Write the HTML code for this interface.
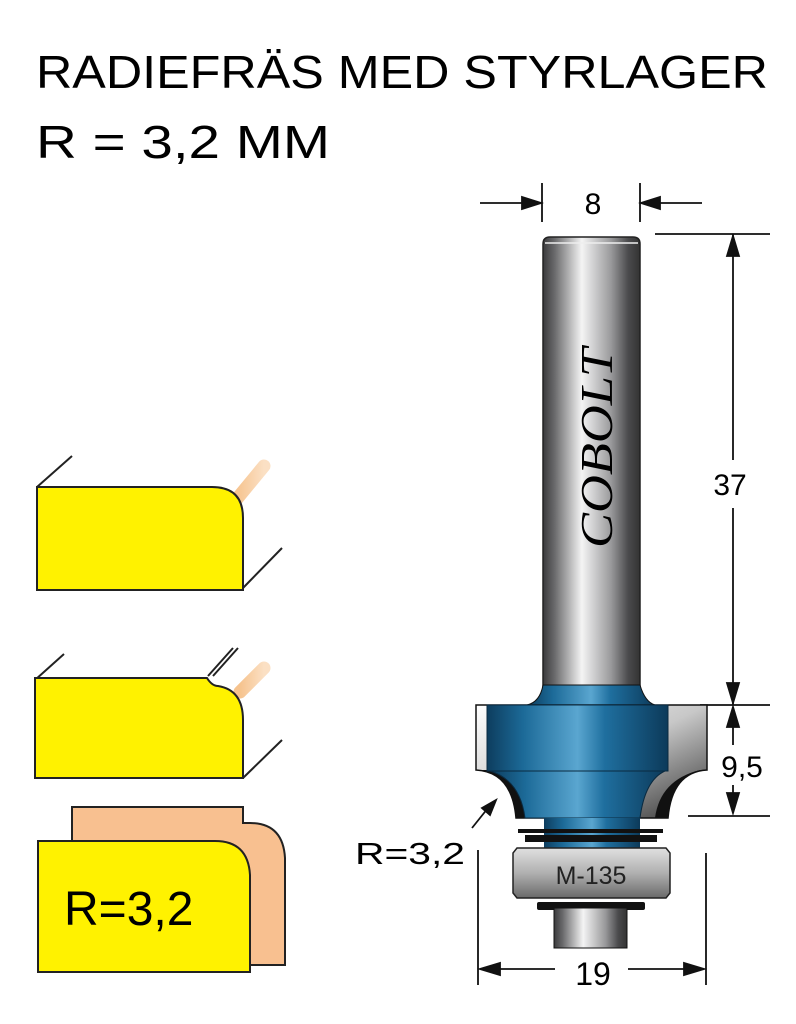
<!DOCTYPE html>
<html><head><meta charset="utf-8"><style>
html,body{margin:0;padding:0;background:#fff}
svg{display:block}
text{font-family:"Liberation Sans",sans-serif}
</style></head><body>
<svg width="796" height="1024" viewBox="0 0 796 1024" xmlns="http://www.w3.org/2000/svg">
<defs>
<linearGradient id="sh" x1="0" x2="1" y1="0" y2="0">
<stop offset="0" stop-color="#3a3a3c"/><stop offset="0.12" stop-color="#6a6a6c"/><stop offset="0.4" stop-color="#f4f4f4"/><stop offset="0.7" stop-color="#9a9a9c"/><stop offset="0.88" stop-color="#4a4a4c"/><stop offset="1" stop-color="#333"/>
</linearGradient>
<linearGradient id="bl" x1="0" x2="1" y1="0" y2="0">
<stop offset="0" stop-color="#0d3d5e"/><stop offset="0.2" stop-color="#1c6a98"/><stop offset="0.5" stop-color="#5aa6d0"/><stop offset="0.65" stop-color="#1f6f9f"/><stop offset="1" stop-color="#0c3a5a"/>
</linearGradient>
<linearGradient id="gw" x1="0" x2="1" y1="0" y2="1">
<stop offset="0" stop-color="#fff"/><stop offset="0.5" stop-color="#c8c8c8"/><stop offset="1" stop-color="#333"/>
</linearGradient>
<linearGradient id="br" x1="0" x2="0" y1="0" y2="1">
<stop offset="0" stop-color="#e0e0e0"/><stop offset="0.5" stop-color="#b0b0b0"/><stop offset="1" stop-color="#6a6a6a"/>
</linearGradient>
<linearGradient id="pe" x1="0" x2="1"><stop offset="0" stop-color="#f6c38e"/><stop offset="1" stop-color="#fbe0c4"/></linearGradient>
</defs>
<text x="36" y="88" font-size="46" textLength="732" lengthAdjust="spacingAndGlyphs">RADIEFRÄS MED STYRLAGER</text>
<text x="36" y="158" font-size="46" textLength="294" lengthAdjust="spacingAndGlyphs">R = 3,2 MM</text>

<g stroke="#222" stroke-width="2">
<line x1="37" y1="487" x2="72" y2="456"/><line x1="243" y1="588" x2="282" y2="548"/>
<line x1="236" y1="500" x2="264" y2="466" stroke="url(#pe)" stroke-width="13" stroke-linecap="round"/>
<path d="M37 487 H212 Q243 487 243 518 V590 H37 Z" fill="#fff200"/>
<line x1="35" y1="680" x2="64" y2="654"/><line x1="243" y1="778" x2="282" y2="740"/>
<line x1="240" y1="692" x2="264" y2="668" stroke="url(#pe)" stroke-width="13" stroke-linecap="round"/>
<path d="M208 676 L233 648 M213 676 L238 648" stroke-width="2"/>
<path d="M35 678 H207 Q212 686 218 686 Q243 690 243 720 V778 H35 Z" fill="#fff200"/>
<path d="M72 807 H243 V823 H250 Q283 823 285 858 V965 H72 Z" fill="#f8c090"/>
<path d="M38 841 H215 Q248 841 250 875 V972 H38 Z" fill="#fff200"/>
</g>
<text x="64" y="925" font-size="48">R=3,2</text>

<g stroke="#111" stroke-width="1.8" fill="#111">
<line x1="542" y1="183" x2="542" y2="222"/><line x1="640" y1="183" x2="640" y2="222"/>
<line x1="480" y1="203" x2="525" y2="203"/><polygon points="541,203 522,197 522,209"/>
<line x1="660" y1="203" x2="702" y2="203"/><polygon points="641,203 660,197 660,209"/>
<line x1="655" y1="234" x2="770" y2="234"/>
<line x1="733" y1="234" x2="733" y2="460"/><line x1="733" y1="508" x2="733" y2="705"/>
<polygon points="733,236 727,256 739,256"/><polygon points="733,703 727,683 739,683"/>
<line x1="700" y1="705" x2="770" y2="705"/>
<polygon points="733,707 727,727 739,727"/><line x1="733" y1="720" x2="733" y2="745"/>
<line x1="733" y1="785" x2="733" y2="810"/><polygon points="733,813 727,793 739,793"/>
<line x1="688" y1="816" x2="770" y2="816"/>
<line x1="478" y1="850" x2="478" y2="985"/><line x1="706" y1="853" x2="706" y2="985"/>
<line x1="490" y1="969" x2="555" y2="969"/><polygon points="480,969 500,963 500,975"/>
<line x1="628" y1="969" x2="695" y2="969"/><polygon points="704,969 684,963 684,975"/>
<line x1="472" y1="828" x2="488" y2="808"/><polygon points="496,800 482,808 490,815"/>
</g>
<text x="593" y="214" font-size="30" text-anchor="middle">8</text>
<text x="730" y="495" font-size="30" text-anchor="middle">37</text>
<text x="742" y="777" font-size="30" text-anchor="middle">9,5</text>
<text x="593" y="985" font-size="32" text-anchor="middle">19</text>
<text x="355" y="864" font-size="31" textLength="110" lengthAdjust="spacingAndGlyphs">R=3,2</text>

<path d="M543 690 V244 Q543 237 550 237 H633 Q640 237 640 244 V690 Z" fill="url(#sh)" stroke="#222" stroke-width="1.5"/>
<line x1="545" y1="243" x2="638" y2="243" stroke="#eee" stroke-width="1.5"/>
<text transform="translate(612,548) rotate(-90)" style="font-family:'Liberation Serif',serif;font-style:italic;font-size:46px" textLength="200" lengthAdjust="spacingAndGlyphs">COBOLT</text>

<path d="M527 705 Q540 702 543 685 H640 Q645 702 655 705 Z" fill="url(#bl)" stroke="#111"/>
<path d="M476 705 H707 V770 Q672 772 668 818 H516 Q512 772 476 770 Z" fill="url(#gw)" stroke="#111" stroke-width="1.5"/>
<path d="M476 770 Q512 772 516 818 H530 Q520 780 487 770 Z" fill="#111"/>
<path d="M707 770 Q672 772 668 818 H655 Q660 780 700 770 Z" fill="#111"/>
<rect x="487" y="705" width="181" height="66" fill="url(#bl)" stroke="#0a2a40"/>
<path d="M490 771 H665 Q645 780 640 818 H525 Q520 780 490 771 Z" fill="url(#bl)" stroke="#0a2a40"/>
<rect x="544" y="818" width="96" height="30" fill="url(#bl)"/>
<rect x="518" y="829" width="145" height="4" fill="#111"/>
<rect x="525" y="835" width="132" height="7" fill="#111"/>
<path d="M517 848 H666 L670 853 V893 L666 898 H517 L513 893 V853 Z" fill="url(#br)" stroke="#222" stroke-width="1.5"/>
<text x="591" y="884" font-size="25" text-anchor="middle" fill="#222">M-135</text>
<rect x="537" y="902" width="108" height="8" rx="2" fill="#111"/>
<rect x="554" y="908" width="73" height="40" fill="url(#sh)" stroke="#111"/>
</svg>
</body></html>
